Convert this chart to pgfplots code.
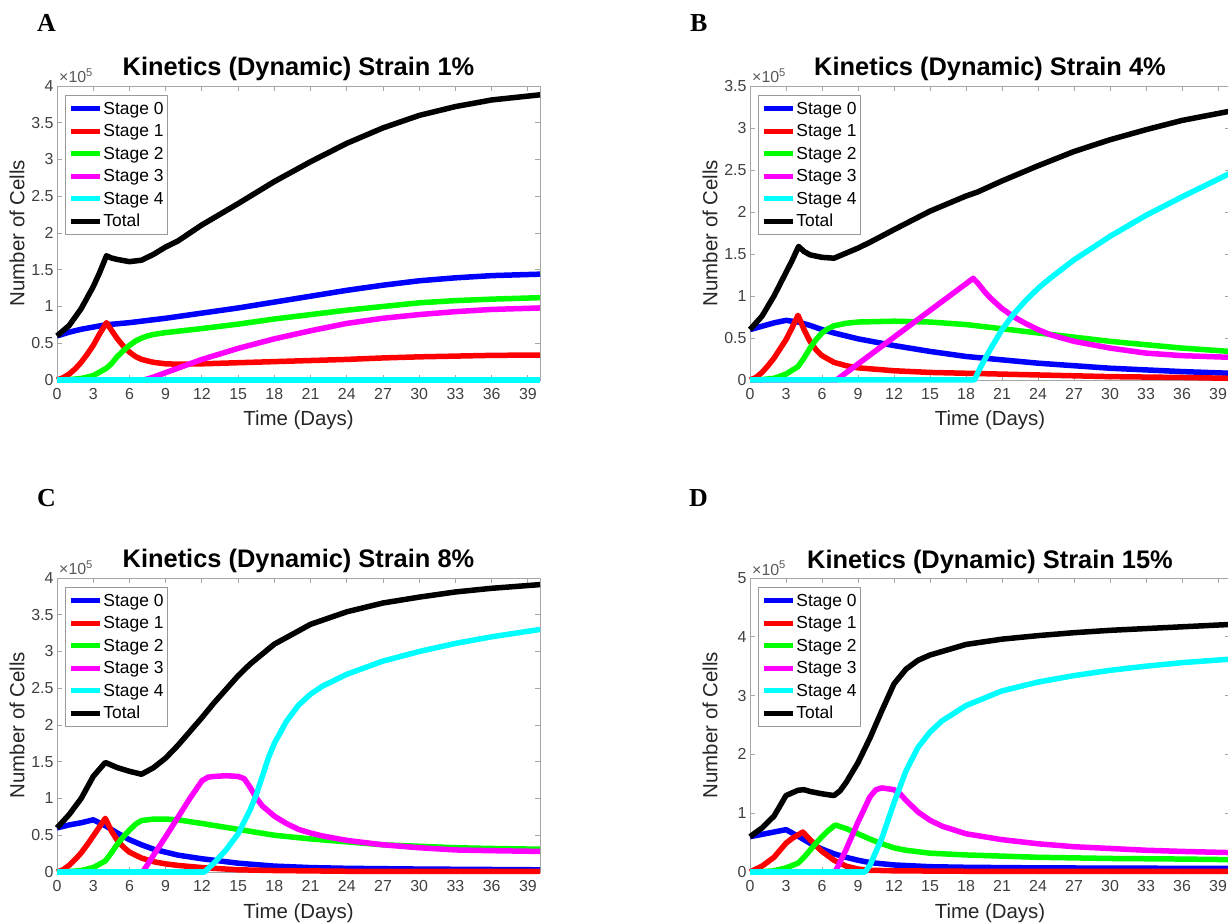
\documentclass[border=0pt]{standalone}
\usepackage{fontspec}
\setmainfont{Liberation Sans}
\newfontfamily\letterfont{Liberation Serif}
\usepackage{pgfplots}
\pgfplotsset{compat=1.18}
\definecolor{sblue}{rgb}{0,0,1}
\definecolor{sred}{rgb}{1,0,0}
\definecolor{sgreen}{rgb}{0,1,0}
\definecolor{smag}{rgb}{1,0,1}
\definecolor{scyan}{rgb}{0,1,1}

\pgfplotsset{
 panel/.style={
  scale only axis, anchor=south west, height=294bp,
  xmin=0, xmax=40, ymin=0,
  xtick={0,3,...,39},
  tick align=inside,
  major tick length=5bp,
  axis line style={draw=black!35, line width=0.9bp},
  every tick/.style={draw=black!35, line width=0.9bp},
  /pgf/number format/assume math mode=true,
  tick label style={font=\fontsize{16}{19}\selectfont, text=black!75},
  xticklabel style={yshift=-5bp},
  every axis x label/.style={at={(axis description cs:0.5,0)}, anchor=base, yshift=-46bp, font=\fontsize{20.5}{24}\selectfont, text=black!85},
  every axis y label/.style={at={(axis description cs:0,0.5)}, xshift=-40bp, rotate=90, anchor=center, font=\fontsize{20.5}{24}\selectfont, text=black!85},
  xlabel={Time (Days)}, ylabel={Number of Cells},
  every axis title/.style={at={(axis description cs:0.5,1)}, anchor=base, yshift=10bp, font=\fontsize{25.5}{30}\selectfont\bfseries},
  clip=false,
  every axis plot/.append style={line width=5.5bp, line join=round, no markers},
  legend cell align=left,
  legend image code/.code={\draw[#1, line width=5bp] (0bp,0bp) -- (29bp,0bp);},
  legend style={at={(axis description cs:0,1)}, anchor=north west, xshift=8bp, yshift=-9bp, draw=black!40, line width=0.9bp, fill=white, inner xsep=3bp, inner ysep=3bp, row sep=2bp, font=\fontsize{17.5}{20}\selectfont, nodes={inner xsep=1bp, inner ysep=0bp, text height=16bp, text depth=4.5bp}},
 },
}
\tikzset{expnode/.style={anchor=base west, font=\fontsize{16}{18}\selectfont, text=black!65, inner sep=0pt, xshift=2bp, yshift=3bp}}

\begin{document}
\begin{tikzpicture}
\path[use as bounding box] (0,0) rectangle (1228bp,924bp);

% ---------------- A ----------------
\begin{axis}[panel, at={(57bp,544bp)}, width=483bp, ymax=4,
  ytick={0,0.5,...,4}, title={Kinetics (Dynamic) Strain 1\%}]
\addplot[sblue] coordinates {(0,0.60)(1,0.65)(2,0.69)(3,0.72)(4,0.75)(6,0.78)(9,0.84)(12,0.91)(15,0.98)(18,1.06)(21,1.14)(24,1.22)(27,1.29)(30,1.35)(33,1.39)(36,1.42)(40,1.44)};
\addplot[sred] coordinates {(0,0)(0.5,0.03)(1,0.08)(1.5,0.15)(2,0.24)(2.5,0.35)(3,0.47)(3.5,0.62)(4.1,0.78)(4.5,0.68)(5,0.56)(5.5,0.46)(6,0.38)(6.5,0.32)(7,0.28)(8,0.24)(9,0.22)(10,0.215)(12,0.22)(15,0.235)(18,0.25)(21,0.265)(24,0.28)(27,0.30)(30,0.315)(33,0.325)(36,0.335)(40,0.34)};
\addplot[sgreen] coordinates {(0,0)(1,0.005)(2,0.02)(3,0.06)(4.1,0.16)(4.5,0.22)(5,0.32)(5.5,0.40)(6,0.47)(6.5,0.53)(7,0.57)(7.5,0.60)(8,0.62)(9,0.645)(12,0.70)(15,0.76)(18,0.83)(21,0.89)(24,0.95)(27,1.0)(30,1.05)(33,1.08)(36,1.10)(40,1.12)};
\addplot[smag] coordinates {(0,0)(7.2,0)(8,0.04)(9,0.10)(10,0.16)(12,0.28)(15,0.43)(18,0.56)(21,0.67)(24,0.77)(27,0.84)(30,0.89)(33,0.93)(36,0.96)(40,0.98)};
\addplot[scyan] coordinates {(0,0)(40,0)};
\addplot[black] coordinates {(0,0.60)(1,0.74)(2,0.97)(3,1.27)(3.5,1.45)(4.1,1.69)(4.5,1.66)(5,1.64)(6,1.61)(7,1.63)(8,1.71)(9,1.81)(10,1.89)(12,2.11)(15,2.40)(18,2.70)(21,2.97)(24,3.22)(27,3.43)(30,3.60)(33,3.72)(36,3.81)(40,3.88)};
\legend{Stage 0,Stage 1,Stage 2,Stage 3,Stage 4,Total}
\node[expnode] at (rel axis cs:0,1) {×10\textsuperscript{5}};
\end{axis}

% ---------------- B ----------------
\begin{axis}[panel, at={(750bp,544bp)}, width=480bp, ymax=3.5,
  ytick={0,0.5,...,3.5}, title={Kinetics (Dynamic) Strain 4\%}]
\addplot[sblue] coordinates {(0,0.60)(1,0.64)(2,0.68)(3,0.71)(4,0.69)(5,0.65)(6,0.60)(7,0.56)(9,0.49)(12,0.41)(15,0.34)(18,0.28)(21,0.24)(24,0.20)(27,0.17)(30,0.14)(33,0.12)(36,0.10)(40,0.08)};
\addplot[sred] coordinates {(0,0)(0.5,0.03)(1,0.09)(1.5,0.17)(2,0.26)(2.5,0.37)(3,0.48)(3.5,0.62)(4,0.77)(4.5,0.60)(5,0.46)(5.5,0.36)(6,0.29)(7,0.21)(8,0.17)(9,0.145)(12,0.11)(15,0.09)(18,0.08)(21,0.07)(24,0.06)(30,0.04)(36,0.03)(40,0.02)};
\addplot[sgreen] coordinates {(0,0)(1,0.005)(2,0.02)(3,0.07)(4,0.16)(4.5,0.26)(5,0.38)(5.5,0.48)(6,0.56)(6.5,0.61)(7,0.645)(8,0.675)(9,0.69)(12,0.70)(15,0.69)(18,0.66)(21,0.61)(24,0.56)(27,0.51)(30,0.46)(33,0.42)(36,0.38)(40,0.34)};
\addplot[smag] coordinates {(0,0)(7.2,0)(18.6,1.21)(19,1.15)(19.5,1.06)(20,0.98)(21,0.85)(22,0.75)(23,0.67)(24,0.60)(25,0.54)(27,0.46)(30,0.38)(33,0.32)(36,0.29)(40,0.27)};
\addplot[scyan] coordinates {(0,0)(18.7,0)(19.2,0.15)(20,0.36)(21,0.60)(22,0.79)(23,0.95)(24,1.09)(25,1.21)(27,1.43)(30,1.71)(33,1.96)(36,2.18)(40,2.46)};
\addplot[black] coordinates {(0,0.60)(1,0.76)(2,1.0)(3,1.28)(3.5,1.42)(4.05,1.59)(4.5,1.53)(5,1.49)(6,1.46)(7,1.45)(8,1.51)(9,1.57)(10,1.64)(12,1.79)(15,2.01)(18,2.19)(19,2.24)(21,2.37)(24,2.55)(27,2.72)(30,2.86)(33,2.98)(36,3.09)(40,3.20)};
\legend{Stage 0,Stage 1,Stage 2,Stage 3,Stage 4,Total}
\node[expnode] at (rel axis cs:0,1) {×10\textsuperscript{5}};
\end{axis}

% ---------------- C ----------------
\begin{axis}[panel, at={(57bp,52bp)}, width=483bp, ymax=4,
  ytick={0,0.5,...,4}, title={Kinetics (Dynamic) Strain 8\%}]
\addplot[sblue] coordinates {(0,0.60)(1,0.64)(2,0.67)(3,0.71)(4,0.63)(5,0.53)(6,0.44)(7,0.37)(8,0.31)(9,0.27)(10,0.23)(12,0.18)(15,0.12)(18,0.08)(21,0.06)(24,0.05)(30,0.04)(40,0.03)};
\addplot[sred] coordinates {(0,0)(0.5,0.03)(1,0.09)(1.5,0.17)(2,0.26)(2.5,0.37)(3,0.49)(3.5,0.61)(4,0.73)(4.5,0.56)(5,0.43)(5.5,0.34)(6,0.27)(7,0.19)(8,0.14)(9,0.11)(10,0.09)(12,0.06)(15,0.03)(18,0.02)(24,0.01)(40,0.01)};
\addplot[sgreen] coordinates {(0,0)(1,0.005)(2,0.02)(3,0.06)(4,0.15)(4.5,0.26)(5,0.38)(5.5,0.48)(6,0.57)(6.5,0.65)(7,0.70)(8,0.72)(9,0.72)(10,0.71)(12,0.66)(15,0.58)(18,0.50)(21,0.45)(24,0.41)(27,0.37)(30,0.35)(33,0.33)(36,0.32)(40,0.31)};
\addplot[smag] coordinates {(0,0)(7.1,0)(8,0.23)(9,0.48)(10,0.74)(11,1.0)(12,1.24)(12.5,1.29)(13,1.30)(14,1.31)(15,1.30)(15.5,1.27)(16,1.15)(16.5,1.01)(17,0.90)(18,0.76)(19,0.66)(20,0.58)(21,0.53)(22,0.49)(24,0.43)(27,0.37)(30,0.33)(33,0.30)(36,0.29)(40,0.28)};
\addplot[scyan] coordinates {(0,0)(12.2,0)(13,0.12)(14,0.30)(15,0.52)(16,0.85)(16.5,1.05)(17,1.30)(17.5,1.55)(18,1.75)(19,2.05)(20,2.27)(21,2.42)(22,2.53)(24,2.69)(27,2.87)(30,3.00)(33,3.11)(36,3.20)(40,3.30)};
\addplot[black] coordinates {(0,0.60)(1,0.78)(2,1.0)(2.5,1.15)(3,1.30)(4,1.49)(5,1.42)(6,1.37)(7,1.33)(8,1.42)(9,1.55)(10,1.72)(12,2.10)(13,2.30)(15,2.67)(16,2.83)(18,3.10)(21,3.37)(24,3.54)(27,3.66)(30,3.74)(33,3.81)(36,3.86)(40,3.91)};
\legend{Stage 0,Stage 1,Stage 2,Stage 3,Stage 4,Total}
\node[expnode] at (rel axis cs:0,1) {×10\textsuperscript{5}};
\end{axis}

% ---------------- D ----------------
\begin{axis}[panel, at={(750bp,52bp)}, width=480bp, ymax=5,
  ytick={0,1,...,5}, title={Kinetics (Dynamic) Strain 15\%}]
\addplot[sblue] coordinates {(0,0.60)(1,0.64)(2,0.68)(3,0.72)(4,0.61)(5,0.49)(6,0.39)(7,0.31)(8,0.25)(9,0.20)(10,0.16)(12,0.12)(15,0.09)(18,0.08)(24,0.07)(40,0.06)};
\addplot[sred] coordinates {(0,0)(1,0.10)(2,0.25)(3,0.49)(3.5,0.57)(4,0.63)(4.4,0.68)(5,0.55)(5.5,0.45)(6,0.35)(7,0.20)(8,0.10)(9,0.05)(10,0.03)(12,0.02)(20,0.01)(40,0.01)};
\addplot[sgreen] coordinates {(0,0)(1,0.005)(2,0.02)(3,0.07)(4,0.15)(4.5,0.25)(5,0.37)(5.5,0.49)(6,0.60)(6.5,0.70)(7.1,0.80)(8,0.74)(9,0.65)(10,0.56)(11,0.48)(12,0.41)(13,0.37)(15,0.32)(18,0.29)(21,0.27)(24,0.25)(30,0.23)(36,0.22)(40,0.21)};
\addplot[smag] coordinates {(0,0)(7.1,0)(8,0.38)(9,0.85)(10,1.28)(10.5,1.40)(11,1.43)(12,1.40)(12.5,1.33)(13,1.22)(14,1.02)(15,0.88)(16,0.78)(18,0.65)(21,0.55)(24,0.48)(27,0.43)(30,0.40)(33,0.37)(36,0.35)(40,0.33)};
\addplot[scyan] coordinates {(0,0)(9.6,0)(10,0.12)(11,0.58)(12,1.18)(13,1.72)(14,2.12)(15,2.38)(16,2.57)(18,2.83)(21,3.08)(24,3.23)(27,3.34)(30,3.43)(33,3.50)(36,3.56)(40,3.62)};
\addplot[black] coordinates {(0,0.60)(1,0.75)(2,0.95)(3,1.30)(4,1.39)(4.5,1.40)(5,1.37)(6,1.33)(7,1.30)(7.5,1.38)(8,1.52)(9,1.86)(10,2.28)(11,2.75)(12,3.20)(13,3.45)(14,3.60)(15,3.69)(18,3.87)(21,3.96)(24,4.02)(27,4.07)(30,4.11)(33,4.14)(36,4.17)(40,4.21)};
\legend{Stage 0,Stage 1,Stage 2,Stage 3,Stage 4,Total}
\node[expnode] at (rel axis cs:0,1) {×10\textsuperscript{5}};
\end{axis}

% panel letters
\node[anchor=base west, inner sep=0pt, font=\letterfont\bfseries\fontsize{26}{30}\selectfont] at (37bp,892bp) {A};
\node[anchor=base west, inner sep=0pt, font=\letterfont\bfseries\fontsize{26}{30}\selectfont] at (690bp,892bp) {B};
\node[anchor=base west, inner sep=0pt, font=\letterfont\bfseries\fontsize{26}{30}\selectfont] at (37bp,417bp) {C};
\node[anchor=base west, inner sep=0pt, font=\letterfont\bfseries\fontsize{26}{30}\selectfont] at (689bp,417bp) {D};
\end{tikzpicture}
\end{document}
